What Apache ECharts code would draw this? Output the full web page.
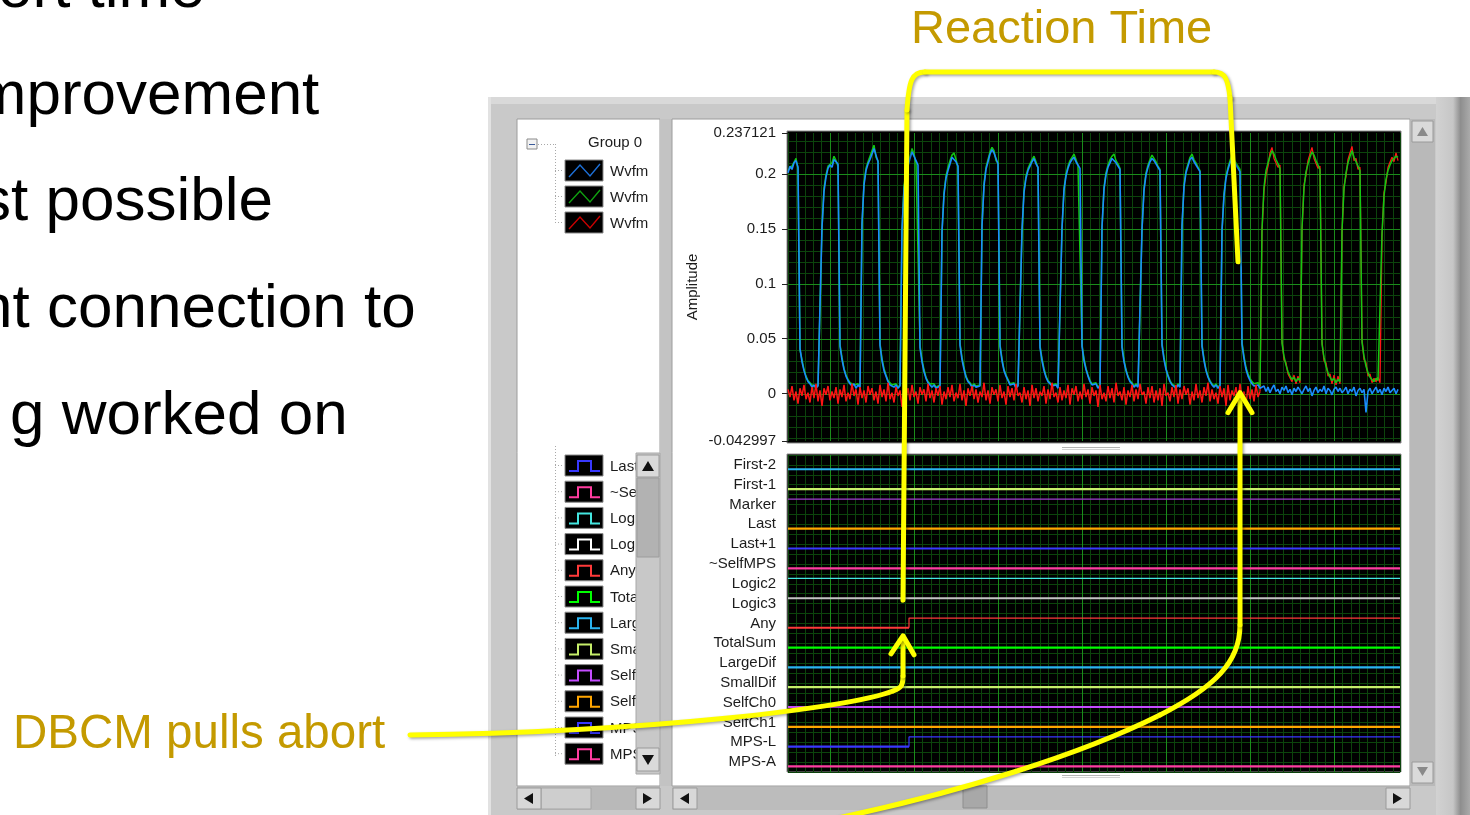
<!DOCTYPE html>
<html><head><meta charset="utf-8">
<script src="https://cdn.jsdelivr.net/npm/echarts@6/dist/echarts.min.js"></script>
<style>html,body{margin:0;padding:0;background:#fff;overflow:hidden}#c{width:1470px;height:815px}</style>
</head><body><div id="c"></div>
<script>
// ---------------- DATA ----------------
// Wvfm 0 (blue), one value per sample
const wvfm0 = [
0.201,0.207,0.204,0.210,0.212,0.206,
0.041,0.029,0.021,0.015,0.011,0.009,0.006,0.008,0.005,0.007,0.006,
0.152,0.184,0.197,0.205,0.208,0.206,0.213,0.214,0.209,
0.043,0.031,0.022,0.016,0.012,0.009,0.007,0.009,0.005,0.008,0.006,
0.155,0.190,0.203,0.209,0.213,0.218,0.223,0.217,0.211,
0.044,0.030,0.021,0.016,0.011,0.008,0.007,0.006,0.008,0.005,0.007,
0.150,0.186,0.199,0.207,0.214,0.220,0.216,0.212,0.208,
0.042,0.029,0.020,0.014,0.010,0.008,0.006,0.008,0.005,0.006,0.007,
0.148,0.181,0.196,0.203,0.209,0.215,0.216,0.211,0.207,
0.044,0.031,0.022,0.015,0.011,0.009,0.006,0.008,0.006,0.005,0.007,
0.153,0.189,0.204,0.211,0.218,0.222,0.219,0.214,0.209,
0.043,0.030,0.021,0.016,0.012,0.008,0.007,0.009,0.005,0.007,0.006,
0.149,0.183,0.196,0.203,0.207,0.211,0.214,0.209,0.206,
0.042,0.030,0.021,0.015,0.011,0.009,0.007,0.006,0.008,0.005,0.006,
0.151,0.185,0.198,0.205,0.210,0.213,0.215,0.211,0.208,0.205,
0.043,0.030,0.022,0.016,0.011,0.008,0.007,0.009,0.005,0.007,
0.152,0.186,0.199,0.206,0.210,0.214,0.215,0.210,0.207,0.204,
0.042,0.029,0.021,0.015,0.011,0.009,0.006,0.008,0.006,0.007,
0.150,0.185,0.199,0.206,0.211,0.214,0.212,0.209,0.206,0.203,
0.044,0.031,0.022,0.016,0.011,0.008,0.007,0.005,0.008,0.006,
0.153,0.188,0.201,0.207,0.213,0.215,0.211,0.208,0.205,0.202,
0.043,0.030,0.021,0.015,0.011,0.008,0.006,0.008,0.005,0.007,
0.149,0.180,0.196,0.204,0.210,0.214,0.211,0.208,0.205,0.202,
0.045,0.032,0.022,0.016,0.012,0.009,0.007,0.006,0.008,0.005,
0.004,0.007,0.002,0.006,0.001,0.005,0.008,0.002,0.004,0.000,
0.006,0.003,0.007,0.001,0.004,-0.001,0.005,0.002,0.006,0.003,
0.000,0.004,0.007,0.002,0.005,-0.002,0.003,0.006,0.001,0.004,
0.002,0.007,0.000,0.005,0.003,-0.001,0.004,0.006,0.002,0.005,
0.001,0.003,0.006,0.000,0.004,0.002,0.006,-0.002,0.003,0.005,
0.001,0.004,-0.017,0.002,0.005,0.000,0.003,0.006,0.001,0.004,
-0.001,0.005,0.002,0.006,0.001,0.003,0.005,0.000,0.004
];
// Wvfm 1 (green)
const wvfm1 = [
0.203,0.205,0.207,0.208,0.214,0.205,
0.040,0.031,0.022,0.016,0.012,0.010,0.008,0.009,0.006,0.008,0.007,
0.150,0.187,0.199,0.207,0.206,0.210,0.216,0.212,0.207,
0.045,0.033,0.023,0.017,0.013,0.010,0.009,0.008,0.007,0.009,0.006,
0.153,0.192,0.205,0.211,0.216,0.221,0.226,0.215,0.212,
0.046,0.032,0.023,0.017,0.012,0.010,0.008,0.007,0.009,0.006,0.008,
0.148,0.189,0.201,0.209,0.216,0.223,0.218,0.210,0.209,
0.044,0.031,0.022,0.015,0.011,0.009,0.008,0.009,0.006,0.007,0.008,
0.146,0.183,0.198,0.206,0.212,0.217,0.219,0.213,0.206,
0.046,0.033,0.024,0.016,0.012,0.010,0.007,0.009,0.007,0.006,0.008,
0.151,0.191,0.206,0.213,0.220,0.224,0.221,0.212,0.210,
0.045,0.032,0.022,0.017,0.013,0.009,0.008,0.010,0.006,0.008,0.007,
0.147,0.185,0.198,0.205,0.209,0.213,0.216,0.211,0.205,
0.044,0.032,0.023,0.016,0.012,0.010,0.008,0.007,0.009,0.006,0.007,
0.149,0.187,0.200,0.207,0.212,0.215,0.218,0.213,0.207,0.206,
0.045,0.032,0.023,0.017,0.012,0.009,0.008,0.010,0.006,0.008,
0.150,0.188,0.201,0.208,0.213,0.216,0.218,0.212,0.209,0.205,
0.044,0.031,0.022,0.016,0.012,0.010,0.007,0.009,0.007,0.008,
0.148,0.187,0.201,0.208,0.213,0.217,0.214,0.211,0.207,0.204,
0.046,0.033,0.023,0.017,0.012,0.009,0.008,0.006,0.009,0.007,
0.151,0.190,0.203,0.209,0.215,0.218,0.213,0.210,0.206,0.203,
0.045,0.032,0.022,0.016,0.012,0.009,0.007,0.009,0.006,0.008,
0.147,0.182,0.198,0.206,0.212,0.217,0.213,0.210,0.207,0.204,
0.047,0.034,0.024,0.018,0.014,0.011,0.009,0.008,0.010,0.007,
0.150,0.188,0.203,0.210,0.216,0.221,0.218,0.213,0.209,0.205,
0.046,0.034,0.026,0.020,0.016,0.013,0.015,0.011,0.014,0.012,
0.151,0.187,0.202,0.209,0.215,0.220,0.217,0.212,0.208,0.204,
0.045,0.033,0.025,0.019,0.015,0.012,0.014,0.010,0.013,0.011,
0.149,0.186,0.201,0.210,0.216,0.221,0.215,0.211,0.207,0.203,
0.047,0.034,0.025,0.019,0.015,0.013,0.011,0.014,0.012,0.013,
0.146,0.180,0.195,0.203,0.208,0.212,0.214,0.216,0.215
];
// Wvfm 2 (red)
const wvfm2 = [
0.004,-0.003,0.007,-0.006,0.002,-0.009,0.005,-0.002,0.008,-0.005,
0.001,-0.008,0.006,-0.004,0.009,-0.007,0.003,-0.011,0.005,-0.001,
0.007,-0.006,0.002,-0.004,0.006,-0.009,0.004,-0.003,0.008,-0.007,
0.001,-0.005,0.009,-0.002,0.004,-0.010,0.006,-0.004,0.003,-0.008,
0.007,-0.001,0.005,-0.006,0.002,-0.009,0.008,-0.003,0.004,-0.007,
0.010,-0.005,0.001,-0.008,0.006,-0.002,0.003,-0.012,0.007,-0.004,
0.005,-0.006,0.008,-0.003,0.002,-0.009,0.006,-0.001,0.004,-0.007,
0.009,-0.004,0.003,-0.008,0.005,-0.002,0.007,-0.010,0.002,-0.005,
0.006,-0.003,0.008,-0.007,0.001,-0.004,0.009,-0.006,0.003,-0.011,
0.005,-0.002,0.007,-0.005,0.004,-0.008,0.002,-0.003,0.010,-0.006,
0.003,-0.009,0.006,-0.001,0.004,-0.007,0.008,-0.004,0.002,-0.010,
0.007,-0.003,0.005,-0.006,0.009,-0.002,0.001,-0.008,0.006,-0.005,
0.003,-0.011,0.008,-0.004,0.005,-0.007,0.002,-0.002,0.007,-0.009,
0.004,-0.005,0.010,-0.003,0.001,-0.008,0.006,-0.006,0.003,-0.004,
0.008,-0.010,0.005,-0.001,0.007,-0.007,0.002,-0.005,0.009,-0.003,
0.004,-0.009,0.006,-0.002,0.003,-0.012,0.008,-0.005,0.001,-0.007,
0.007,-0.004,0.005,-0.008,0.010,-0.002,0.002,-0.006,0.006,-0.010,
0.003,-0.003,0.008,-0.007,0.004,-0.005,0.009,-0.001,0.002,-0.009,
0.006,-0.004,0.007,-0.008,0.003,-0.006,0.005,-0.011,0.009,-0.002,
0.001,-0.007,0.006,-0.003,0.008,-0.009,0.004,-0.005,0.007,-0.001,
0.005,-0.010,0.002,-0.006,0.009,-0.004,0.003,-0.008,0.006,-0.002,
0.010,-0.007,0.004,-0.005,0.001,-0.009,0.007,-0.003,0.005,-0.011,
0.008,-0.006,0.003,-0.002,0.006,-0.008,0.009,-0.004,0.002,-0.010,
0.007,-0.005,0.004,-0.007,0.008,-0.003,0.002,
0.147,0.185,0.199,0.207,0.219,0.224,0.214,0.215,0.206,0.208,
0.049,0.031,0.028,0.018,0.018,0.011,0.017,0.009,0.016,0.010,
0.148,0.190,0.199,0.212,0.212,0.224,0.214,0.215,0.205,0.207,
0.048,0.030,0.028,0.016,0.018,0.009,0.017,0.008,0.016,0.009,
0.146,0.189,0.198,0.213,0.213,0.225,0.212,0.214,0.204,0.206,
0.050,0.031,0.028,0.016,0.018,0.010,0.014,0.011,0.015,0.010,
0.143,0.183,0.192,0.206,0.205,0.215,0.211,0.219,0.212
];
const redPulseStart = 236;          // sample where Wvfm 2 stops being flat noise
const analogNames = ['Wvfm 0', 'Wvfm 1', 'Wvfm 2'];
const sampleCount = 306;
const amplitudeMin = -0.042997;
const amplitudeMax = 0.237121;
const amplitudeTicks = [-0.042997, 0, 0.05, 0.1, 0.15, 0.2, 0.237121];

const digitalNames = ['First-2','First-1','Marker','Last','Last+1','~SelfMPS','Logic2','Logic3','Any','TotalSum','LargeDif','SmallDif','SelfCh0','SelfCh1','MPS-L','MPS-A'];
const digitalBefore = [0,0,1,0,0,0,1,1,0,0,0,0,0,0,0,0];
const digitalAfter  = [0,0,1,0,0,0,1,1,1,0,0,0,0,0,1,0];
const digitalSwitchSample = 60.5;
const digitalLegendFirst = 4;        // legend is scrolled: first visible entry is Last+1

const slideLines = ['ort time', 'improvement', 'st possible', 'nt connection to', 'g worked on'];
const reactionLabel = 'Reaction Time';
const abortLabel = 'DBCM pulls abort';
const groupLabel = 'Group 0';

// ---------------- STYLE ----------------
const analogColors = ['#1a8cff', '#12c812', '#ff1414'];
const analogIconColors = ['#1d6fd6', '#10a010', '#c80000'];
const digitalColors = ['#2ab4f0','#c6ee6a','#a040d0','#ffa500','#3838ff','#ff3ca0','#44e6e0','#c4c4c4','#ff3a3a','#00ff00','#2ab4f0','#c6ee6a','#c44cff','#ffa500','#3838ff','#ff3ca0'];
const digitalIconColors = digitalColors.map((c, i) => i === 7 ? '#ffffff' : c);
const MINOR = '#0c440c', MAJOR = '#1b8c1b';
const YELLOW = '#ffff00', GOLD = '#c49a00';
const UI_FONT = '"Liberation Sans", Arial, sans-serif';
const LOW_OFF = 0.72, HIGH_OFF = 0.23;
const MID = 0.27;   // distance baseline -> middle, in em

// ---------------- CHART ----------------
const chart = echarts.init(document.getElementById('c'));

function gridRender(yMin, yMax) {
  return function (params, api) {
    const dir = api.value(0), v = api.value(1), major = api.value(2);
    let a, b;
    if (dir === 0) {
      a = api.coord([0, v]); b = api.coord([sampleCount, v]);
      const y = Math.round(a[1]) + 0.5;
      return { type: 'line', shape: { x1: a[0], y1: y, x2: b[0], y2: y }, style: { stroke: major ? MAJOR : MINOR, lineWidth: 1 } };
    }
    a = api.coord([v, yMin]); b = api.coord([v, yMax]);
    const x = Math.round(a[0]) + 0.5;
    return { type: 'line', shape: { x1: x, y1: a[1], x2: x, y2: b[1] }, style: { stroke: MAJOR, lineWidth: 1 } };
  };
}
const analogGridItems = [];
for (let k = -4; k <= 23; k++) analogGridItems.push([0, k / 100, k % 5 === 0 ? 1 : 0]);
for (let x = 21; x < sampleCount; x += 42) analogGridItems.push([1, x, 1]);
const digitalGridItems = [];
for (let x = 21; x < sampleCount; x += 42) digitalGridItems.push([1, x, 1]);

function lineSeries(name, data, color, width, xi, yi) {
  return { type: 'line', name, data, xAxisIndex: xi, yAxisIndex: yi, symbol: 'none', showSymbol: false,
    lineStyle: { color, width }, itemStyle: { color }, silent: true, animation: false, clip: true };
}

const series = [
  { type: 'custom', xAxisIndex: 0, yAxisIndex: 0, z: 1, silent: true, data: analogGridItems, renderItem: gridRender(amplitudeMin, amplitudeMax) },
  { type: 'custom', xAxisIndex: 1, yAxisIndex: 1, z: 1, silent: true, data: digitalGridItems, renderItem: gridRender(0, 16) },
  lineSeries(analogNames[2], wvfm2.slice(redPulseStart).map((v, k) => [redPulseStart + k, v]), analogColors[2], 1.3, 0, 0),
  lineSeries(analogNames[1], wvfm1.map((v, i) => [i, v]), analogColors[1], 1.5, 0, 0),
  lineSeries(analogNames[0], wvfm0.map((v, i) => [i, v]), analogColors[0], 1.6, 0, 0),
  lineSeries(analogNames[2], wvfm2.slice(0, redPulseStart + 1).map((v, i) => [i, v]), analogColors[2], 1.5, 0, 0)
];
const lvl = (i, s) => i + (s ? HIGH_OFF : LOW_OFF);
const stateWidth = (i, s) => s ? (i === 7 ? 1.8 : 1.2) : 2.2;
digitalNames.forEach((name, i) => {
  const b = digitalBefore[i], a = digitalAfter[i];
  if (b === a) {
    series.push(lineSeries(name, [[0, lvl(i, b)], [sampleCount, lvl(i, b)]], digitalColors[i], stateWidth(i, b), 1, 1));
  } else {
    series.push(lineSeries(name, [[0, lvl(i, b)], [digitalSwitchSample, lvl(i, b)]], digitalColors[i], stateWidth(i, b), 1, 1));
    series.push(lineSeries(name, [[digitalSwitchSample, lvl(i, b)], [digitalSwitchSample, lvl(i, a)], [sampleCount, lvl(i, a)]], digitalColors[i], stateWidth(i, a), 1, 1));
  }
});

const xAxisCfg = gi => ({ type: 'value', gridIndex: gi, min: 0, max: sampleCount, interval: 4.2,
  axisLine: { show: false }, axisTick: { show: false }, axisLabel: { show: false },
  splitLine: { show: true, lineStyle: { color: MINOR, width: 1 } } });

// ---------------- PANEL GRAPHICS ----------------
const G = [];
function rect(x, y, w, h, fill, stroke, z) {
  const st = { fill };
  if (stroke) { st.stroke = stroke; st.lineWidth = 1; }
  G.push({ type: 'rect', silent: true, z: z === undefined ? -10 : z, shape: { x, y, width: w, height: h }, style: st });
}
function tri(pts, fill, z) { G.push({ type: 'polygon', silent: true, z: z === undefined ? -2 : z, shape: { points: pts }, style: { fill } }); }
function seg(x1, y1, x2, y2, stroke, z, dash) {
  const st = { stroke, lineWidth: 1 }; if (dash) st.lineDash = dash;
  G.push({ type: 'line', silent: true, z: z === undefined ? -8 : z, shape: { x1, y1, x2, y2 }, style: st });
}
function txt(x, y, text, font, fill, z, extra) {
  const st = Object.assign({ text, font, fill, align: 'left', verticalAlign: 'middle', textAlign: 'left', textVerticalAlign: 'middle' }, extra || {});
  G.push({ type: 'text', silent: true, z: z === undefined ? -6 : z, x, y, style: st });
}

// outer LabVIEW panel
rect(488, 97, 982, 718, '#c9c9c9');
rect(488, 97, 982, 7, '#d9d9d9', null, -9.9);
rect(488, 97, 3, 718, '#e2e2e2', null, -9.9);
G.push({ type: 'rect', silent: true, z: -9.9, shape: { x: 1436, y: 97, width: 34, height: 718 },
  style: { fill: new echarts.graphic.LinearGradient(0, 0, 1, 0, [
    { offset: 0, color: '#d2d2d2' }, { offset: 0.5, color: '#c6c6c6' }, { offset: 0.72, color: '#8e8e8e' }, { offset: 1, color: '#aaaaaa' }]) } });
// legend area, splitter, plot area
rect(517, 119, 143, 667, '#ffffff', '#9c9c9c', -9);
rect(660, 119, 12, 667, '#c3c3c3', null, -9);
rect(672, 119, 738, 667, '#ffffff', '#9c9c9c', -9);
// right scrollbar
rect(1410, 119, 25, 667, '#b9b9b9', null, -9);
rect(1412, 121, 21, 21, '#dadada', '#9a9a9a', -8);
tri([[1417, 136], [1422.5, 127], [1428, 136]], '#8a8a8a');
rect(1412, 762, 21, 21, '#dadada', '#9a9a9a', -8);
tri([[1417, 767], [1428, 767], [1422.5, 776]], '#8a8a8a');
// bottom scrollbars
rect(517, 787, 143, 23, '#b9b9b9', null, -9);
rect(541, 788, 50, 21, '#cecece', '#a6a6a6', -8);
rect(517, 788, 24, 21, '#d8d8d8', '#9a9a9a', -8);
tri([[524, 798.5], [533, 793], [533, 804]], '#111');
rect(636, 788, 24, 21, '#d8d8d8', '#9a9a9a', -8);
tri([[643, 793], [643, 804], [652, 798.5]], '#111');
rect(672, 787, 738, 23, '#bcbcbc', null, -9);
rect(963, 786, 24, 22, '#a8a8a8', '#8e8e8e', -8);
rect(673, 788, 24, 21, '#d8d8d8', '#9a9a9a', -8);
tri([[680, 798.5], [689, 793], [689, 804]], '#111');
rect(1386, 788, 24, 21, '#d8d8d8', '#9a9a9a', -8);
tri([[1393, 793], [1393, 804], [1402, 798.5]], '#111');
// black plot areas
rect(787, 131, 614, 312, '#000000', '#8c8c8c', -7);
rect(787, 454, 614, 318, '#000000', '#8c8c8c', -7);
seg(1062, 447.5, 1120, 447.5, '#b4b4b4', -7);
seg(1062, 449.5, 1120, 449.5, '#d4d4d4', -7);
seg(1062, 775.5, 1120, 775.5, '#b4b4b4', -7);
seg(1062, 777.5, 1120, 777.5, '#d4d4d4', -7);

// legend tree (analog)
rect(527, 139, 10, 10, '#f2f2f2', '#8a8a8a', -7);
seg(529, 144.5, 535, 144.5, '#3a5a9a', -6);
seg(538, 144.5, 555, 144.5, '#a8a8a8', -7, [1, 2]);
seg(555.5, 144, 555.5, 223, '#a8a8a8', -7, [1, 2]);
txt(588, 143, groupLabel, '15px ' + UI_FONT, '#1c1c1c');
analogNames.forEach((name, k) => {
  const y = 160 + 26 * k;
  seg(555, y + 10.5, 564, y + 10.5, '#a8a8a8', -7, [1, 2]);
  rect(565, y, 38, 21, '#000000', '#8a8a8a', -7);
  G.push({ type: 'polyline', silent: true, z: -6, shape: { points: [[569, y + 17], [580, y + 5], [590, y + 16], [600, y + 4]] }, style: { stroke: analogIconColors[k], lineWidth: 1.4, fill: null } });
  txt(610, y + 11.5, name, '15px ' + UI_FONT, '#1c1c1c', -6, { width: 47, overflow: 'truncate', ellipsis: '' });
});
// legend tree (digital, scrolled)
seg(555.5, 446, 555.5, 756, '#a8a8a8', -7, [1, 2]);
for (let k = 0; k < 12; k++) {
  const ch = digitalLegendFirst + k;
  const y = 455 + 26.2 * k;
  seg(555, y + 10.5, 564, y + 10.5, '#a8a8a8', -7, [1, 2]);
  rect(565, y, 38, 21, '#000000', '#8a8a8a', -7);
  G.push({ type: 'polyline', silent: true, z: -6, shape: { points: [[569, y + 16], [578, y + 16], [578, y + 6], [591, y + 6], [591, y + 16], [600, y + 16]] }, style: { stroke: digitalIconColors[ch], lineWidth: 2, fill: null } });
  txt(610, y + 11.5, digitalNames[ch], '15px ' + UI_FONT, '#1c1c1c', -6, { width: 46, overflow: 'truncate', ellipsis: '' });
}
// legend vertical scrollbar
rect(636, 453, 24, 321, '#c8c8c8', '#a8a8a8', -3);
rect(637, 478, 22, 79, '#b2b2b2', '#9c9c9c', -2.9);
rect(637, 455, 22, 22, '#dadada', '#9a9a9a', -2.9);
tri([[642, 471], [648, 461], [654, 471]], '#111', -2.8);
rect(637, 748, 22, 23, '#dadada', '#9a9a9a', -2.9);
tri([[642, 755], [654, 755], [648, 765]], '#111', -2.8);

// slide text
const slideX = [-2, -39, -20, -22, 10];
slideLines.forEach((t, k) => txt(slideX[k], 6.6 + 106.7 * k - MID * 62, t, '62px ' + UI_FONT, '#000000', -6));
txt(911, 43 - MID * 47, reactionLabel, '47px ' + UI_FONT, GOLD, 50);
txt(13, 747.5 - MID * 47, abortLabel, '47.5px ' + UI_FONT, GOLD, 50);

const option = {
  animation: false,
  backgroundColor: '#ffffff',
  textStyle: { fontFamily: UI_FONT },
  grid: [
    { left: 788, top: 133, width: 612, height: 308, show: false, containLabel: false, outerBoundsMode: 'none' },
    { left: 788, top: 455, width: 612, height: 317, show: false, containLabel: false, outerBoundsMode: 'none' }
  ],
  xAxis: [xAxisCfg(0), xAxisCfg(1)],
  yAxis: [
    { type: 'value', gridIndex: 0, position: 'left', min: amplitudeMin, max: amplitudeMax,
      splitLine: { show: false }, axisLine: { show: false },
      axisTick: { show: true, customValues: amplitudeTicks, length: 6, lineStyle: { color: '#222', width: 1 } },
      axisLabel: { show: true, customValues: amplitudeTicks, formatter: v => String(v), margin: 12, fontSize: 15, color: '#1c1c1c', fontFamily: UI_FONT, hideOverlap: false },
      name: 'Amplitude', nameLocation: 'middle', nameGap: 88, nameRotate: 90,
      nameTextStyle: { fontSize: 15, color: '#1c1c1c', fontFamily: UI_FONT } },
    { type: 'value', gridIndex: 1, position: 'left', min: 0, max: 16, interval: 0.5, inverse: true,
      axisLine: { show: false }, axisTick: { show: false }, axisLabel: { show: false },
      splitLine: { show: true, lineStyle: { color: MINOR, width: 1 } } },
    { type: 'category', gridIndex: 1, position: 'left', data: digitalNames, inverse: true,
      axisLine: { show: false }, axisTick: { show: false }, splitLine: { show: false },
      axisLabel: { interval: 0, margin: 12, fontSize: 15, color: '#1c1c1c', fontFamily: UI_FONT } }
  ],
  series,
  graphic: G
};
chart.setOption(option);

// ---------------- ANNOTATIONS (anchored through the axes) ----------------
const px = (xi, v) => chart.convertToPixel({ xAxisIndex: xi }, v);
const py = (yi, v) => chart.convertToPixel({ yAxisIndex: yi }, v);
const stepX = px(1, digitalSwitchSample);
const anyLowY = py(1, lvl(digitalNames.indexOf('Any'), 0));
const logic3Y = py(1, lvl(digitalNames.indexOf('Logic3'), 1));
let lastFall = 0;
for (let i = 1; i < wvfm0.length; i++) if (wvfm0[i - 1] > 0.1 && wvfm0[i] < 0.1) lastFall = i - 0.5;
const fallX = px(0, lastFall);
const zeroY = py(0, 0);
const bracketEndY = py(0, 0.12);

const A = [];
const aStyle = () => ({ stroke: YELLOW, lineWidth: 5, fill: null, lineCap: 'round', lineJoin: 'round',
  shadowBlur: 3, shadowColor: 'rgba(0,0,0,0.35)', shadowOffsetX: 1.5, shadowOffsetY: 1.5 });
const aLine = (x1, y1, x2, y2) => A.push({ type: 'line', silent: true, z: 100, shape: { x1, y1, x2, y2 }, style: aStyle() });
const aBez = (x1, y1, cpx1, cpy1, cpx2, cpy2, x2, y2) => A.push({ type: 'bezierCurve', silent: true, z: 100, shape: { x1, y1, cpx1, cpy1, cpx2, cpy2, x2, y2 }, style: aStyle() });
const aPoly = pts => A.push({ type: 'polyline', silent: true, z: 100, shape: { points: pts }, style: aStyle() });

// reaction-time bracket
const L = stepX - 6;
aLine(L, logic3Y + 2, L + 4, 110);
aBez(L + 4, 110, L + 6, 80, L + 9, 72, L + 22, 72);
aLine(L + 22, 72, 1214, 72);
aBez(1214, 72, 1225, 72, 1228, 79, 1230, 98);
aLine(1230, 98, fallX - 3, bracketEndY);
// DBCM pulls abort arrow
const tipX = stepX - 6, tipY = anyLowY + 8;
aBez(410, 735, 650, 732, 850, 708, 893, 691);
aBez(893, 691, 901, 688, tipX, 686, tipX, 676);
aLine(tipX, 676, tipX, tipY + 3);
aPoly([[tipX - 12, tipY + 18], [tipX, tipY], [tipX + 11, tipY + 19]]);
// reaction arrow from below
const rx = fallX - 1, rTip = zeroY - 1;
aBez(838, 818, 960, 792, 1080, 755, 1160, 715);
aBez(1160, 715, 1215, 687, rx, 662, rx, 625);
aLine(rx, 625, rx, rTip + 3);
aPoly([[rx - 12, rTip + 20], [rx, rTip], [rx + 12, rTip + 20]]);

option.graphic = G.concat(A);
chart.setOption(option, true);
</script>
</body></html>
